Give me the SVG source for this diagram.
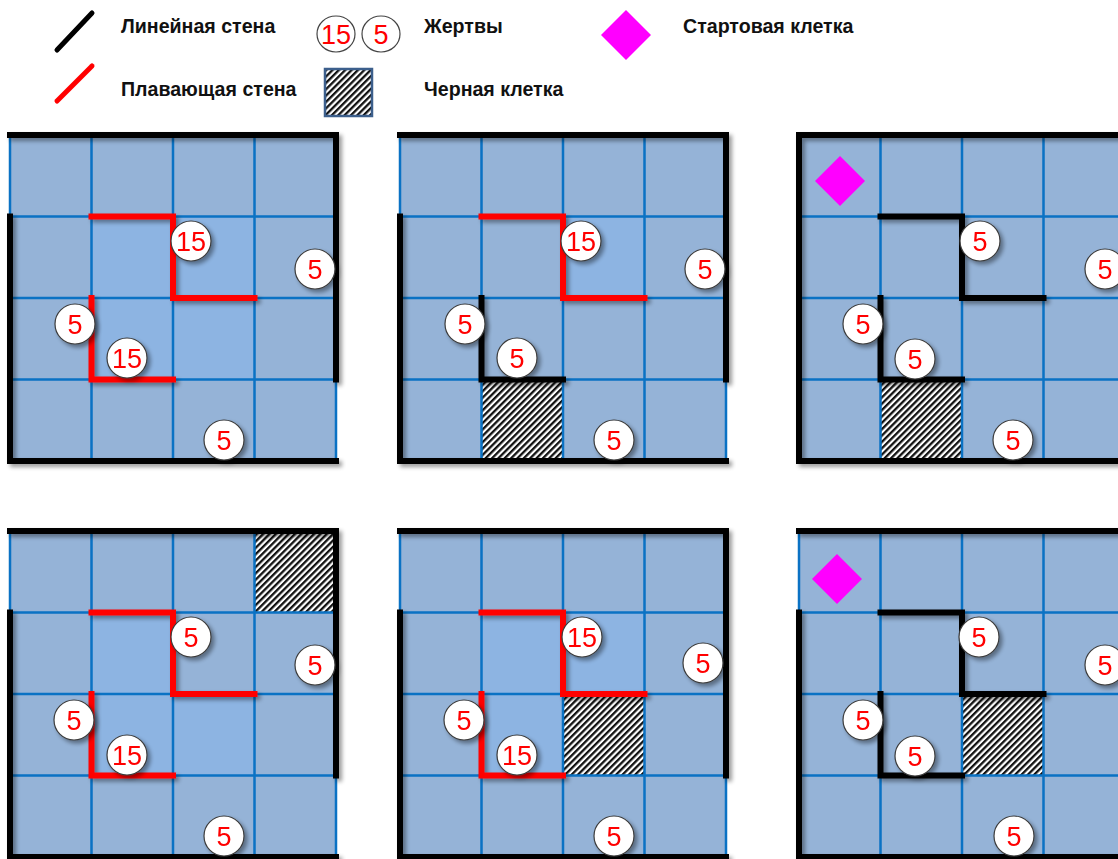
<svg xmlns="http://www.w3.org/2000/svg" xmlns:xlink="http://www.w3.org/1999/xlink" width="1118" height="859" viewBox="0 0 1118 859">
<style>
.lbl{font-family:"Liberation Sans",Arial,sans-serif;font-weight:bold;font-size:19.6px;fill:#111}
.cell{fill:#95b3d7}
.lite{fill:#8db4e2}
.grid{fill:none;stroke:#0a72c4;stroke-width:2.5}
.wall{fill:none;stroke:#000;stroke-width:6;stroke-linejoin:miter;stroke-linecap:square}
.fwall{fill:none;stroke:#ff0000;stroke-width:6;stroke-linejoin:miter;stroke-linecap:square}
.vc{fill:#fff;stroke:#3a3a3a;stroke-width:1.2}
.vt{font-family:"Liberation Sans",Arial,sans-serif;font-size:27px;fill:#ff0000;text-anchor:middle}
.hatch{fill:url(#hatch)}
.start{fill:#ff00ff}
</style>
<defs>
<pattern id="hatch" patternUnits="userSpaceOnUse" width="4.5" height="4.5" patternTransform="rotate(45)">
<rect width="4.5" height="4.5" fill="#ffffff"/>
<rect width="2.3" height="4.5" fill="#111"/>
</pattern>
<filter id="sh" x="-20%" y="-20%" width="140%" height="140%">
<feGaussianBlur in="SourceAlpha" stdDeviation="2.2"/>
<feOffset dx="3" dy="3" result="b"/>
<feComponentTransfer><feFuncA type="linear" slope="0.4"/></feComponentTransfer>
<feMerge><feMergeNode/><feMergeNode in="SourceGraphic"/></feMerge>
</filter>
<path id="gridlines" class="grid" d="M0,0V326M81.5,0V326M163,0V326M244.5,0V326M326,0V326M0,0H326M0,81.5H326M0,163H326M0,244.5H326M0,326H326"/>
</defs>

<g id="legend">
<g id="legend-linear-wall">
<line x1="57" y1="50" x2="92" y2="13" stroke="#000" stroke-width="5" stroke-linecap="round"/>
<text class="lbl" x="121" y="33">Линейная стена</text>
</g>
<g id="legend-floating-wall">
<line x1="57" y1="101" x2="92" y2="66" stroke="#ff0000" stroke-width="5" stroke-linecap="round"/>
<text class="lbl" x="121" y="96">Плавающая стена</text>
</g>
<g id="legend-victims">
<ellipse cx="336" cy="34" rx="19" ry="18" fill="#fff" stroke="#444" stroke-width="1.2"/>
<text class="vt" x="336" y="44">15</text>
<ellipse cx="381" cy="34" rx="19" ry="18" fill="#fff" stroke="#444" stroke-width="1.2"/>
<text class="vt" x="381" y="44">5</text>
<text class="lbl" x="424" y="33">Жертвы</text>
</g>
<g id="legend-black-cell">
<rect x="325" y="69" width="47" height="47" class="hatch" stroke="#3c5f8c" stroke-width="2.5"/>
<text class="lbl" x="424" y="96">Черная клетка</text>
</g>
<g id="legend-start">
<polygon class="start" points="626,10 651,35 626,60 601,35"/>
<text class="lbl" x="683" y="33">Стартовая клетка</text>
</g>
</g>

<g id="panel1" transform="translate(10,135)">
<rect class="cell" width="326" height="326"/>
<rect class="lite" x="81.5" y="81.5" width="163" height="163"/>
<use href="#gridlines"/>
<g filter="url(#sh)">
<path class="wall" d="M0,0H326V244.5"/>
<path class="wall" d="M0,81.5V326H326"/>
<path class="fwall" d="M81.5,81.5H163V163H244.5"/>
<path class="fwall" d="M81.5,163V244.5H163"/>
</g>
<g filter="url(#sh)">
<g id="p1v1"><circle class="vc" cx="181" cy="106" r="20"/><text class="vt" x="181" y="116">15</text></g>
<g id="p1v2"><circle class="vc" cx="305" cy="134" r="20"/><text class="vt" x="305" y="144">5</text></g>
<g id="p1v3"><circle class="vc" cx="65" cy="189" r="20"/><text class="vt" x="65" y="199">5</text></g>
<g id="p1v4"><circle class="vc" cx="117" cy="223" r="20"/><text class="vt" x="117" y="233">15</text></g>
<g id="p1v5"><circle class="vc" cx="214" cy="305" r="20"/><text class="vt" x="214" y="315">5</text></g>
</g>
</g>

<g id="panel2" transform="translate(400,135)">
<rect class="cell" width="326" height="326"/>
<rect class="lite" x="163" y="81.5" width="81.5" height="81.5"/>
<rect class="hatch" x="81.5" y="244.5" width="81.5" height="81.5"/>
<use href="#gridlines"/>
<g filter="url(#sh)">
<path class="wall" d="M0,0H326V244.5"/>
<path class="wall" d="M0,81.5V326H326"/>
<path class="fwall" d="M81.5,81.5H163V163H244.5"/>
<path class="wall" d="M81.5,163V244.5H163"/>
</g>
<g filter="url(#sh)">
<g id="p2v1"><circle class="vc" cx="181" cy="106" r="20"/><text class="vt" x="181" y="116">15</text></g>
<g id="p2v2"><circle class="vc" cx="305" cy="134" r="20"/><text class="vt" x="305" y="144">5</text></g>
<g id="p2v3"><circle class="vc" cx="65" cy="189" r="20"/><text class="vt" x="65" y="199">5</text></g>
<g id="p2v4"><circle class="vc" cx="117" cy="223" r="20"/><text class="vt" x="117" y="233">5</text></g>
<g id="p2v5"><circle class="vc" cx="214" cy="305" r="20"/><text class="vt" x="214" y="315">5</text></g>
</g>
</g>

<g id="panel3" transform="translate(799,135)">
<rect class="cell" width="326" height="326"/>
<rect class="hatch" x="81.5" y="244.5" width="81.5" height="81.5"/>
<use href="#gridlines"/>
<g filter="url(#sh)">
<path class="wall" d="M326,0H0V326H326"/>
<path class="wall" d="M81.5,81.5H163V163H244.5"/>
<path class="wall" d="M81.5,163V244.5H163"/>
</g>
<polygon id="p3start" class="start" points="41,21 66,46 41,71 16,46"/>
<g filter="url(#sh)">
<g id="p3v1"><circle class="vc" cx="181" cy="106" r="20"/><text class="vt" x="181" y="116">5</text></g>
<g id="p3v2"><circle class="vc" cx="306" cy="134" r="20"/><text class="vt" x="306" y="144">5</text></g>
<g id="p3v3"><circle class="vc" cx="64" cy="189" r="20"/><text class="vt" x="64" y="199">5</text></g>
<g id="p3v4"><circle class="vc" cx="116" cy="224" r="20"/><text class="vt" x="116" y="234">5</text></g>
<g id="p3v5"><circle class="vc" cx="214" cy="305" r="20"/><text class="vt" x="214" y="315">5</text></g>
</g>
</g>

<g id="panel4" transform="translate(10,531)">
<rect class="cell" width="326" height="326"/>
<rect class="lite" x="81.5" y="81.5" width="81.5" height="163"/>
<rect class="lite" x="163" y="163" width="81.5" height="81.5"/>
<rect class="hatch" x="244.5" y="0" width="81.5" height="81.5"/>
<use href="#gridlines"/>
<g filter="url(#sh)">
<path class="wall" d="M0,0H326V244.5"/>
<path class="wall" d="M0,81.5V326H326"/>
<path class="fwall" d="M81.5,81.5H163V163H244.5"/>
<path class="fwall" d="M81.5,163V244.5H163"/>
</g>
<g filter="url(#sh)">
<g id="p4v1"><circle class="vc" cx="181" cy="106" r="20"/><text class="vt" x="181" y="116">5</text></g>
<g id="p4v2"><circle class="vc" cx="305" cy="134" r="20"/><text class="vt" x="305" y="144">5</text></g>
<g id="p4v3"><circle class="vc" cx="64" cy="189" r="20"/><text class="vt" x="64" y="199">5</text></g>
<g id="p4v4"><circle class="vc" cx="117" cy="224" r="20"/><text class="vt" x="117" y="234">15</text></g>
<g id="p4v5"><circle class="vc" cx="214" cy="305" r="20"/><text class="vt" x="214" y="315">5</text></g>
</g>
</g>

<g id="panel5" transform="translate(400,531)">
<rect class="cell" width="326" height="326"/>
<rect class="lite" x="81.5" y="81.5" width="163" height="81.5"/>
<rect class="lite" x="81.5" y="163" width="81.5" height="81.5"/>
<rect class="hatch" x="163" y="163" width="81.5" height="81.5"/>
<use href="#gridlines"/>
<g filter="url(#sh)">
<path class="wall" d="M0,0H326V244.5"/>
<path class="wall" d="M0,81.5V326H326"/>
<path class="fwall" d="M81.5,81.5H163V163H244.5"/>
<path class="fwall" d="M81.5,163V244.5H163"/>
</g>
<g filter="url(#sh)">
<g id="p5v1"><circle class="vc" cx="182" cy="106" r="20"/><text class="vt" x="182" y="116">15</text></g>
<g id="p5v2"><circle class="vc" cx="303" cy="132" r="20"/><text class="vt" x="303" y="142">5</text></g>
<g id="p5v3"><circle class="vc" cx="64" cy="189" r="20"/><text class="vt" x="64" y="199">5</text></g>
<g id="p5v4"><circle class="vc" cx="117" cy="224" r="20"/><text class="vt" x="117" y="234">15</text></g>
<g id="p5v5"><circle class="vc" cx="214" cy="305" r="20"/><text class="vt" x="214" y="315">5</text></g>
</g>
</g>

<g id="panel6" transform="translate(799,531)">
<rect class="cell" width="326" height="326"/>
<rect class="hatch" x="163" y="163" width="81.5" height="81.5"/>
<use href="#gridlines"/>
<g filter="url(#sh)">
<path class="wall" d="M0,0H326"/>
<path class="wall" d="M0,81.5V326H326"/>
<path class="wall" d="M81.5,81.5H163V163H244.5"/>
<path class="wall" d="M81.5,163V244.5H163"/>
</g>
<polygon id="p6start" class="start" points="38,23 63,48 38,73 13,48"/>
<g filter="url(#sh)">
<g id="p6v1"><circle class="vc" cx="180" cy="106" r="20"/><text class="vt" x="180" y="116">5</text></g>
<g id="p6v2"><circle class="vc" cx="306" cy="134" r="20"/><text class="vt" x="306" y="144">5</text></g>
<g id="p6v3"><circle class="vc" cx="64" cy="189" r="20"/><text class="vt" x="64" y="199">5</text></g>
<g id="p6v4"><circle class="vc" cx="116" cy="225" r="20"/><text class="vt" x="116" y="235">5</text></g>
<g id="p6v5"><circle class="vc" cx="215" cy="305" r="20"/><text class="vt" x="215" y="315">5</text></g>
</g>
</g>
</svg>
